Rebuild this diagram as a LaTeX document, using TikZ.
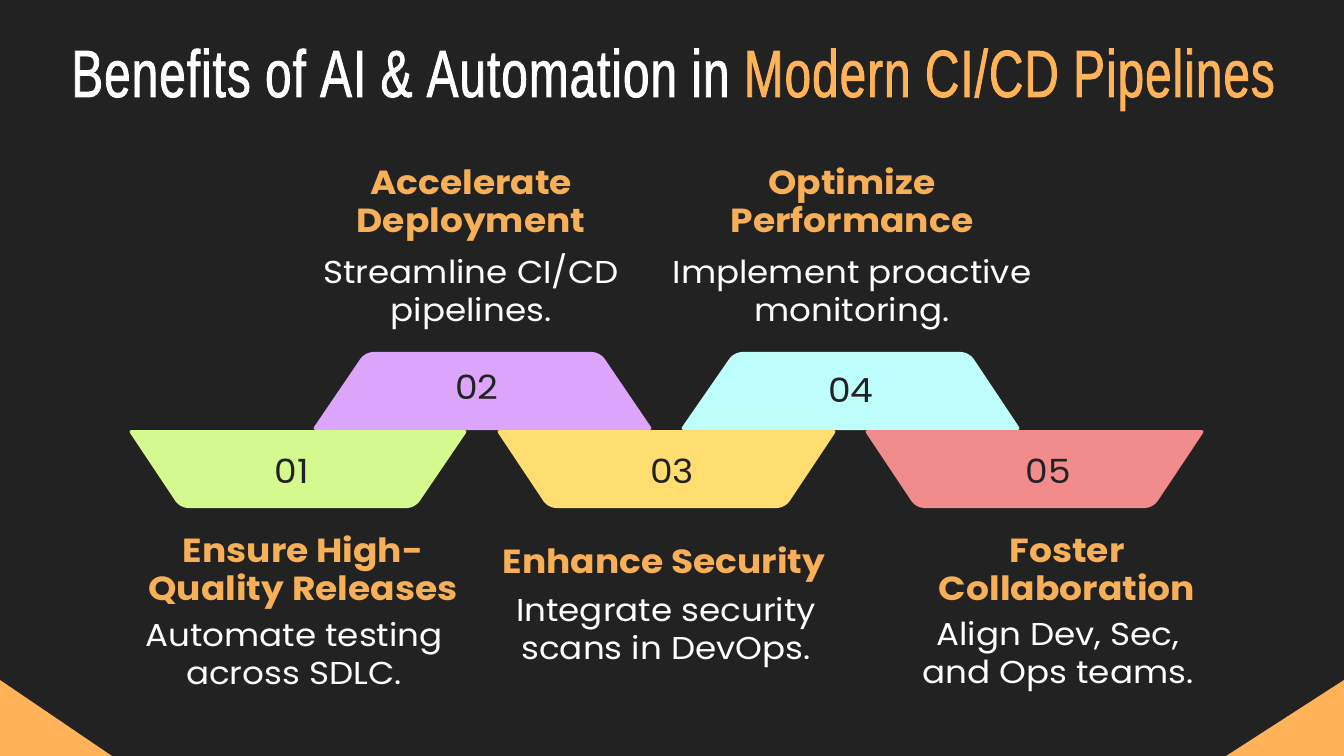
\documentclass[tikz,border=0pt]{standalone}
\usepackage{fontspec}
\setmainfont[FakeStretch=1.08]{Poppins}
\newfontfamily\titlefont[FakeStretch=0.715,LetterSpace=1.5,FakeBold=1.2]{Liberation Sans}
\usetikzlibrary{calc}
\definecolor{bgdark}{HTML}{222223}
\definecolor{accent}{HTML}{FFB258}
\definecolor{headcol}{HTML}{F8B058}
\definecolor{fillone}{HTML}{D4F98F}
\definecolor{filltwo}{HTML}{DDA4FB}
\definecolor{fillthree}{HTML}{FFDD70}
\definecolor{fillfour}{HTML}{BEFFFB}
\definecolor{fillfive}{HTML}{F28B8C}
\tikzset{
	title/.style={font=\titlefont\fontsize{38}{44}\selectfont, text=white, inner sep=0pt, anchor=base west},
	head/.style={font=\fontsize{19}{21.6}\selectfont\bfseries, text=headcol, align=center, inner sep=0pt},
	body/.style={font=\fontsize{18}{21.6}\selectfont, text=white, align=center, inner sep=0pt},
	num/.style={font=\fontsize{19}{21}\selectfont, text=bgdark, inner sep=0pt},
}
% top edge wide: (colour)(y top)(y bottom)(xa,xb)(xc,xd)
\def\downtrap[#1](#2,#3)(#4,#5)(#6,#7){\fill[#1] [rounded corners=2pt] (#2, #6) -- (#3, #6) [rounded corners=4.5pt] -- (#5, #7) -- (#4, #7) [rounded corners=2pt] -- cycle;}
\def\uptrap[#1](#2,#3)(#4,#5)(#6,#7){\fill[#1] [rounded corners=4.5pt] (#4, #6) -- (#5, #6) [rounded corners=2pt] -- (#3, #7) -- (#2, #7) [rounded corners=4.5pt] -- cycle;}
\begin{document}
\begin{tikzpicture}[x=0.02cm, y=-0.02cm]
		%%%%% START %%%%%
		
		\fill[bgdark] (0, 0) rectangle (1344, 756);
		\useasboundingbox (0, 0) rectangle (1344, 756);
		
		\fill[accent] (0, 680) -- (112, 756) -- (0, 756) -- cycle;
		\fill[accent] (1344, 680) -- (1226, 756) -- (1344, 756) -- cycle;
		
		\node[title] (heading) at (71, 97) {Benefits of AI \& Automation in \textcolor{accent}{Modern CI/CD Pipelines}};
		
		\uptrap[filltwo](312, 653)(365, 600)(352, 430);
		\uptrap[fillfour](680, 1021)(734, 969)(352, 430);
		\downtrap[fillone](128, 468)(180, 415)(430, 508);
		\downtrap[fillthree](496, 837)(548, 785)(430, 508);
		\downtrap[fillfive](864, 1205)(916, 1153)(430, 508);
		
		\node[num] (numone) at (292, 471) {01};
		\node[num] (numtwo) at (477, 387) {02};
		\node[num] (numthree) at (672, 471) {03};
		\node[num] (numfour) at (851, 390) {04};
		\node[num] (numfive) at (1048, 471) {05};
		
		\node[head] (headtwo) at (471, 206) {Accelerate\\Deployment};
		\node[body] (bodytwo) at (471, 292) {Streamline CI/CD\\pipelines.};
		
		\node[head] (headfour) at (852, 200) {Optimize\\Performance};
		\node[body] (bodyfour) at (852, 295) {Implement proactive\\monitoring.};
		
		\node[head] (headone) at (303, 573) {Ensure High-\\Quality Releases};
		\node[body] (bodyone) at (294, 654) {Automate testing\\across SDLC.};
		
		\node[head] (headthree) at (664, 565) {Enhance Security};
		\node[body] (bodythree) at (666, 633) {Integrate security\\scans in DevOps.};
		
		\node[head] (headfive) at (1067, 570) {Foster\\Collaboration};
		\node[body] (bodyfive) at (1058, 657) {Align Dev, Sec,\\and Ops teams.};
		
		%%%%% END %%%%%
	\end{tikzpicture}
\end{document}
